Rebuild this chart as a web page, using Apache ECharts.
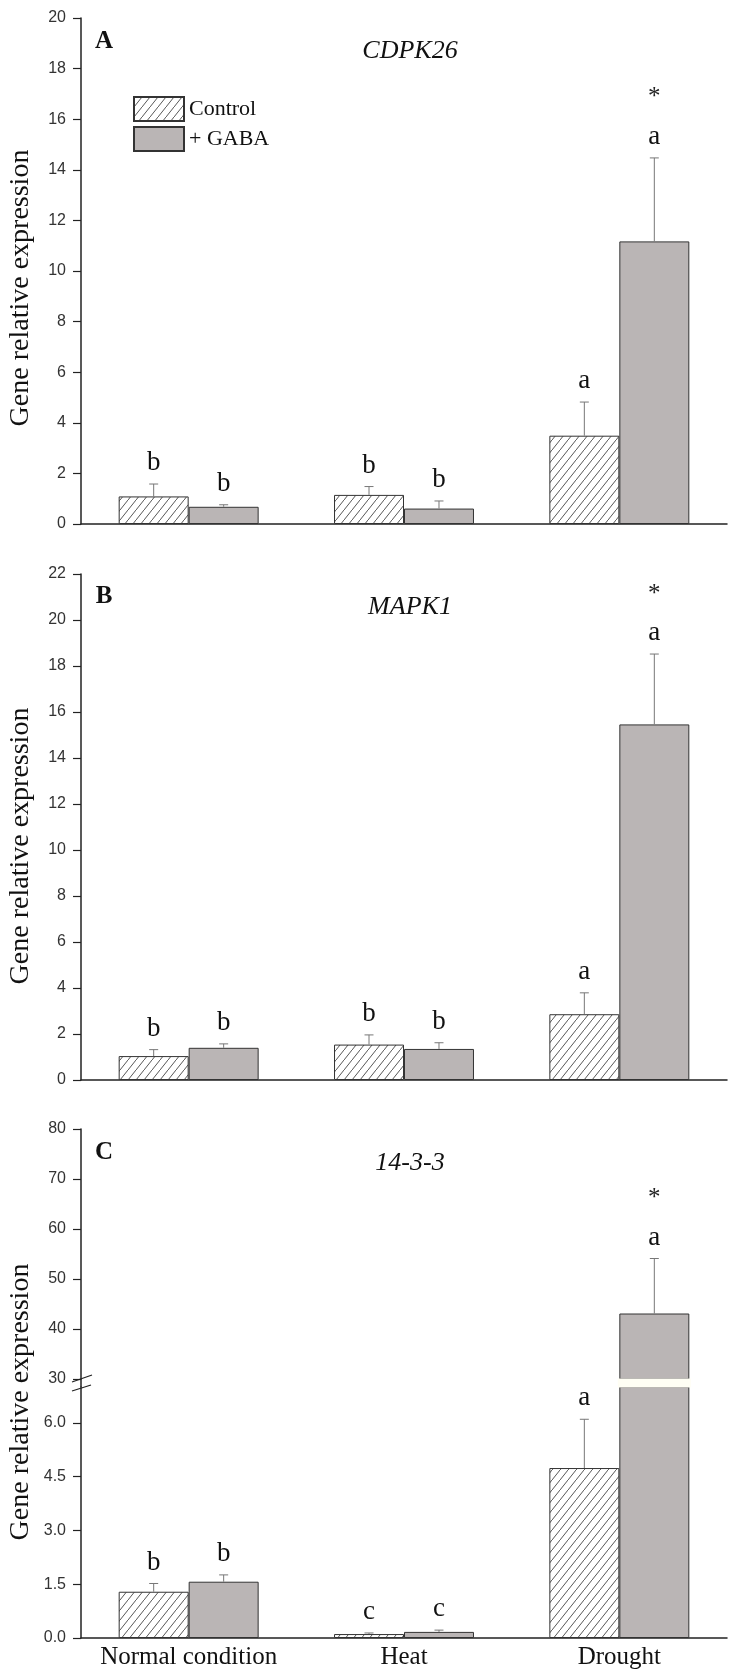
<!DOCTYPE html>
<html>
<head>
<meta charset="utf-8">
<script src="https://cdn.jsdelivr.net/npm/echarts@6/dist/echarts.min.js"></script>
<style>
  html, body { margin: 0; padding: 0; background: #fff; }
  #chart { width: 737px; height: 1677px; }
</style>
</head>
<body>
<div id="chart"></div>
<script>
const categories = ['Normal condition', 'Heat', 'Drought']
const seriesNames = ['Control', '+ GABA']

// A - CDPK26
const cdpkControl = [1.09, 1.15, 3.49]
const cdpkControlSd = [0.49, 0.33, 1.33]
const cdpkGaba = [0.68, 0.61, 11.17]
const cdpkGabaSd = [0.08, 0.30, 3.30]
const cdpkLetters = [['b', 'b', 'a'], ['b', 'b', 'a']]

// B - MAPK1
const mapkControl = [1.04, 1.54, 2.86]
const mapkControlSd = [0.28, 0.42, 0.93]
const mapkGaba = [1.40, 1.35, 15.46]
const mapkGabaSd = [0.17, 0.27, 3.06]
const mapkLetters = [['b', 'b', 'a'], ['b', 'b', 'a']]

// C - 14-3-3 (broken axis)
const p1433Control = [1.29, 0.11, 4.74]
const p1433ControlSd = [0.23, 0.03, 1.36]
const p1433Gaba = [1.57, 0.17, 43.1]
const p1433GabaSd = [0.19, 0.05, 11.0]
const p1433Letters = [['b', 'c', 'a'], ['b', 'c', 'a']]

// asterisk over the + GABA bar
const gabaStars = [false, false, true]

// tick labels
const ticksA = [0, 2, 4, 6, 8, 10, 12, 14, 16, 18, 20]
const ticksB = [0, 2, 4, 6, 8, 10, 12, 14, 16, 18, 20, 22]
const ticksCUpper = [30, 40, 50, 60, 70, 80]
const ticksCLower = [0, 1.5, 3.0, 4.5, 6.0]
const breakAt = 30
const lowerMax = 7

const SERIF = '"Liberation Serif", "Times New Roman", serif'
const SANS = '"Liberation Sans", Arial, sans-serif'
const BAR_W = 0.325
const AXIS_COLOR = '#222'
const BREAK_GAP = 8

const chart = echarts.init(document.getElementById('chart'))

function hatch() {
  const c = document.createElement('canvas')
  c.width = 8
  c.height = 10
  const g = c.getContext('2d')
  g.fillStyle = '#fff'
  g.fillRect(0, 0, 8, 10)
  g.strokeStyle = '#444'
  g.lineWidth = 0.9
  g.beginPath()
  g.moveTo(-1, 11.25)
  g.lineTo(9, -1.25)
  g.stroke()
  return c
}
const hatchFill = { image: hatch(), repeat: 'repeat' }

const grids = [
  { left: 81, right: 10, top: 18, height: 506 },
  { left: 81, right: 10, top: 574, height: 506 },
  { left: 81, right: 10, top: 1129, height: 250 },
  { left: 81, right: 10, top: 1129 + 250 + BREAK_GAP, height: 251 }
]

function xAxis(idx, showLabels, hidden) {
  return {
    type: 'category',
    gridIndex: idx,
    data: categories,
    show: !hidden,
    axisLine: { lineStyle: { color: AXIS_COLOR, width: 1.5 } },
    axisTick: { length: 5, lineStyle: { color: AXIS_COLOR, width: 1.2 } },
    axisLabel: {
      show: showLabels,
      interval: 0,
      margin: 7,
      fontFamily: SERIF,
      fontSize: 25,
      color: '#111'
    }
  }
}

function yAxis(idx, min, max, ticks, digits) {
  return {
    type: 'value',
    gridIndex: idx,
    min: min,
    max: max,
    splitLine: { show: false },
    axisLine: { show: true, lineStyle: { color: AXIS_COLOR, width: 1.5 } },
    axisTick: { show: true, length: 8, customValues: ticks, lineStyle: { color: AXIS_COLOR, width: 1.2 } },
    axisLabel: {
      customValues: ticks,
      margin: 15,
      fontFamily: SANS,
      fontSize: 16,
      color: '#333',
      formatter: v => v.toFixed(digits)
    }
  }
}

function barSeries(idx, control, gaba) {
  return [
    {
      name: seriesNames[0],
      type: 'bar',
      xAxisIndex: idx,
      yAxisIndex: idx,
      data: control,
      barWidth: BAR_W * 100 + '%',
      barGap: '0%',
      animation: false,
      itemStyle: { color: hatchFill, borderColor: '#333', borderWidth: 1 }
    },
    {
      name: seriesNames[1],
      type: 'bar',
      xAxisIndex: idx,
      yAxisIndex: idx,
      data: gaba,
      barWidth: BAR_W * 100 + '%',
      barGap: '0%',
      animation: false,
      itemStyle: { color: '#bab5b5', borderColor: '#333', borderWidth: 1 }
    }
  ]
}

// error bars (upper half only) with significance letters
function errorSeries(idx, means, sds, letters, keep, gapBelow) {
  const items = []
  for (let s = 0; s < 2; s++) {
    for (let i = 0; i < categories.length; i++) {
      if (keep && !keep(s, i)) continue
      items.push({
        value: [i, s, means[s][i], means[s][i] + sds[s][i]],
        letter: letters[s][i],
        star: s === 1 && gabaStars[i]
      })
    }
  }
  return {
    type: 'custom',
    xAxisIndex: idx,
    yAxisIndex: idx,
    clip: false,
    animation: false,
    silent: true,
    z: 3,
    data: items.map(d => d.value),
    renderItem(params, api) {
      const item = items[params.dataIndex]
      const cat = api.value(0)
      const s = api.value(1)
      const base = api.coord([cat, api.value(2)])
      const top = api.coord([cat, api.value(3)])
      const band = api.size([1, 0])[0]
      const bw = band * BAR_W
      const x = base[0] + (s === 0 ? -1 : 1) * bw / 2
      const children = []
      if (gapBelow) {
        // blank band where the broken bar crosses the axis break
        const yb = api.coord([cat, breakAt])[1]
        children.push({
          type: 'rect',
          shape: { x: x - bw / 2 - 1.5, y: yb - 0.5, width: bw + 3, height: BREAK_GAP + 1 },
          style: { fill: '#fffef4' }
        })
      }
      children.push(
        { type: 'line', shape: { x1: x, y1: base[1], x2: x, y2: top[1] }, style: { stroke: '#777', lineWidth: 1 } },
        { type: 'line', shape: { x1: x - 4.5, y1: top[1], x2: x + 4.5, y2: top[1] }, style: { stroke: '#777', lineWidth: 1 } },
        {
          type: 'text', x: x, y: top[1] - 21,
          style: { text: item.letter, font: '27px ' + SERIF, fill: '#111', textAlign: 'center', textVerticalAlign: 'middle' }
        }
      )
      if (item.star) {
        children.push({
          type: 'text', x: x, y: top[1] - 60,
          style: { text: '*', font: '25px ' + SERIF, fill: '#222', textAlign: 'center', textVerticalAlign: 'middle' }
        })
      }
      return { type: 'group', children: children }
    }
  }
}

function yTitle(cy) {
  return {
    type: 'text', x: 21, y: cy, rotation: Math.PI / 2,
    style: { text: 'Gene relative expression', font: '28px ' + SERIF, fill: '#111', textAlign: 'center', textVerticalAlign: 'middle' }
  }
}

function label(text, x, y, font) {
  return {
    type: 'text', x: x, y: y,
    style: { text: text, font: font, fill: '#111', textAlign: 'center', textVerticalAlign: 'middle' }
  }
}

const upperOnly = (s, i) => p1433Gaba[i] >= breakAt && s === 1
const lowerOnly = (s, i) => !(s === 1 && p1433Gaba[i] >= breakAt)

chart.setOption({
  backgroundColor: '#fff',
  grid: grids,
  legend: {
    data: seriesNames,
    orient: 'vertical',
    left: 133,
    top: 96,
    padding: 0,
    itemWidth: 50,
    itemHeight: 24,
    itemGap: 4,
    icon: 'rect',
    selectedMode: false,
    textStyle: { fontFamily: SERIF, fontSize: 22, color: '#111' }
  },
  xAxis: [xAxis(0, false), xAxis(1, false), xAxis(2, false, true), xAxis(3, true)],
  yAxis: [
    yAxis(0, 0, 20, ticksA, 0),
    yAxis(1, 0, 22, ticksB, 0),
    yAxis(2, breakAt, 80, ticksCUpper, 0),
    yAxis(3, 0, lowerMax, ticksCLower, 1)
  ],
  series: [
    ...barSeries(0, cdpkControl, cdpkGaba),
    errorSeries(0, [cdpkControl, cdpkGaba], [cdpkControlSd, cdpkGabaSd], cdpkLetters),
    ...barSeries(1, mapkControl, mapkGaba),
    errorSeries(1, [mapkControl, mapkGaba], [mapkControlSd, mapkGabaSd], mapkLetters),
    ...barSeries(2, p1433Control.map(() => '-'), p1433Gaba.map(v => v >= breakAt ? v : '-')),
    errorSeries(2, [p1433Control, p1433Gaba], [p1433ControlSd, p1433GabaSd], p1433Letters, upperOnly, true),
    ...barSeries(3, p1433Control, p1433Gaba),
    errorSeries(3, [p1433Control, p1433Gaba], [p1433ControlSd, p1433GabaSd], p1433Letters, lowerOnly)
  ],
  graphic: [
    yTitle(288),
    yTitle(846),
    yTitle(1402),
    label('A', 104, 42, 'bold 25px ' + SERIF),
    label('B', 104, 597, 'bold 25px ' + SERIF),
    label('C', 104, 1153, 'bold 25px ' + SERIF),
    label('CDPK26', 410, 51, 'italic 26px ' + SERIF),
    label('MAPK1', 410, 607, 'italic 26px ' + SERIF),
    label('14-3-3', 410, 1163, 'italic 26px ' + SERIF),
    // axis break marks
    { type: 'line', shape: { x1: 81, y1: 1379, x2: 81, y2: 1387 }, style: { stroke: AXIS_COLOR, lineWidth: 1.5 } },
    { type: 'line', shape: { x1: 72, y1: 1382, x2: 92, y2: 1375 }, style: { stroke: AXIS_COLOR, lineWidth: 1.3 } },
    { type: 'line', shape: { x1: 72, y1: 1391, x2: 91, y2: 1385 }, style: { stroke: AXIS_COLOR, lineWidth: 1.3 } }
  ]
})
</script>
</body>
</html>
